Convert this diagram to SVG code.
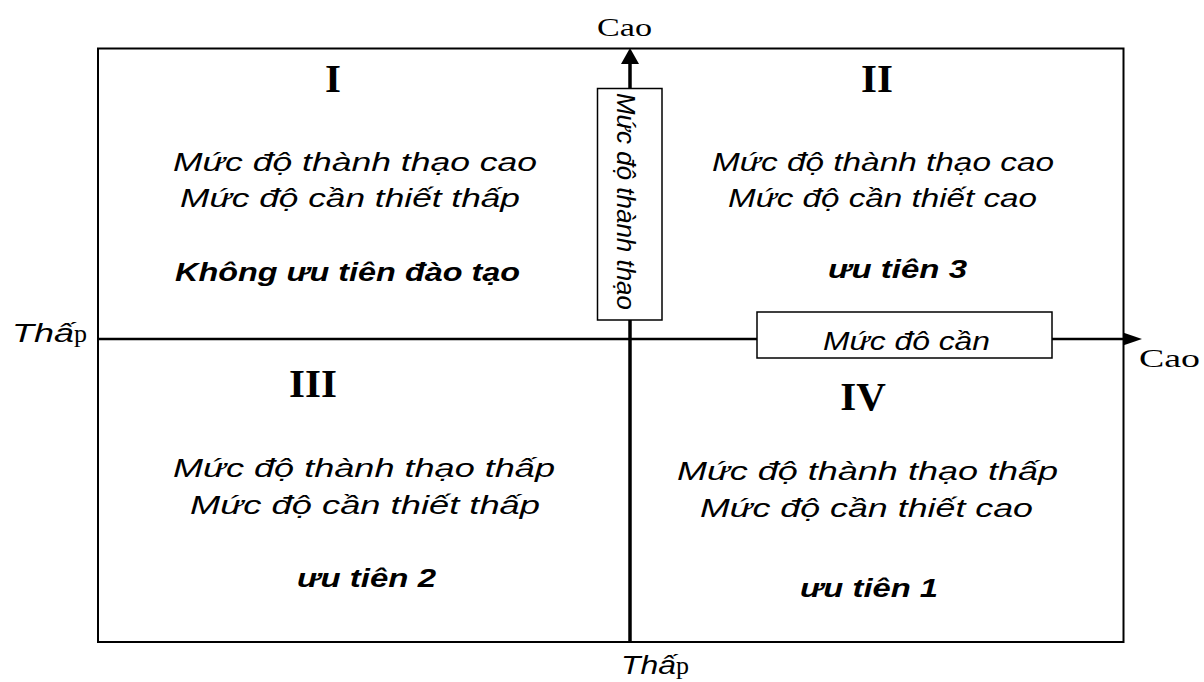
<svg xmlns="http://www.w3.org/2000/svg" width="1204" height="682" viewBox="0 0 1204 682">
  <style>
    .frame { fill: none; stroke: #000; stroke-width: 2; }
    .axis { stroke: #000; fill: none; }
    .tag { fill: #fff; stroke: #000; stroke-width: 1.5; }
    .num { font-family: "Liberation Serif", "Times New Roman", serif; font-weight: bold; font-size: 41px; fill: #000; text-anchor: middle; }
    .txt { font-family: "Liberation Sans", "DejaVu Sans", Arial, sans-serif; font-style: italic; font-size: 26px; fill: #000; }
    .bold { font-weight: bold; }
    .serif { font-family: "Liberation Serif", "Times New Roman", serif; font-size: 26px; fill: #000; }
  </style>

  <rect x="0" y="0" width="1204" height="682" fill="#fff"/>

  <!-- outer frame -->
  <rect class="frame" x="98" y="48.5" width="1025.5" height="593.5"/>

  <!-- axes -->
  <g id="connectors">
    <line class="axis" x1="630" y1="642" x2="630" y2="64" stroke-width="3.5"/>
    <polygon points="630,48 621,64 639,64" fill="#000"/>
    <line class="axis" x1="98" y1="339" x2="1124" y2="339" stroke-width="2.5"/>
    <polygon points="1142,339 1123,332.5 1123,345.5" fill="#000"/>
  </g>

  <!-- axis end labels -->
  <g id="label-top">
    <text class="serif" x="597" y="36" textLength="55" lengthAdjust="spacingAndGlyphs">Cao</text>
  </g>
  <g id="label-right">
    <text class="serif" x="1139" y="367" textLength="61" lengthAdjust="spacingAndGlyphs">Cao</text>
  </g>
  <g id="label-left">
    <text x="12" y="342"><tspan class="txt" textLength="62" lengthAdjust="spacingAndGlyphs">Thấ</tspan><tspan class="serif" font-size="29">p</tspan></text>
  </g>
  <g id="label-bottom">
    <text x="621" y="674"><tspan class="txt" textLength="55" lengthAdjust="spacingAndGlyphs">Thấ</tspan><tspan class="serif" font-size="29">p</tspan></text>
  </g>

  <!-- axis name boxes -->
  <g id="axis-vertical">
    <rect class="tag" x="597.5" y="88.5" width="64.5" height="231.5"/>
    <text class="txt" transform="translate(617,93) rotate(90)" x="0" y="0" font-size="26" textLength="217" lengthAdjust="spacingAndGlyphs">Mức độ thành thạo</text>
  </g>
  <g id="axis-horizontal">
    <rect class="tag" x="757" y="312" width="295" height="46"/>
    <text class="txt" x="823" y="350" font-size="24" textLength="167" lengthAdjust="spacingAndGlyphs">Mức đô cần</text>
  </g>

  <!-- quadrant I -->
  <g id="quadrant-1">
    <text class="num" x="333" y="92">I</text>
    <text class="txt" x="173" y="171" textLength="364" lengthAdjust="spacingAndGlyphs">Mức độ thành thạo cao</text>
    <text class="txt" x="180" y="207" textLength="340" lengthAdjust="spacingAndGlyphs">Mức độ cần thiết thấp</text>
    <text class="txt bold" x="175" y="281" textLength="345" lengthAdjust="spacingAndGlyphs">Không ưu tiên đào tạo</text>
  </g>

  <!-- quadrant II -->
  <g id="quadrant-2">
    <text class="num" x="877" y="92">II</text>
    <text class="txt" x="712" y="171" textLength="342" lengthAdjust="spacingAndGlyphs">Mức độ thành thạo cao</text>
    <text class="txt" x="728" y="207" textLength="309" lengthAdjust="spacingAndGlyphs">Mức độ cần thiết cao</text>
    <text class="txt bold" x="828" y="278" textLength="139" lengthAdjust="spacingAndGlyphs">ưu tiên 3</text>
  </g>

  <!-- quadrant III -->
  <g id="quadrant-3">
    <text class="num" x="313" y="397">III</text>
    <text class="txt" x="173" y="477" textLength="382" lengthAdjust="spacingAndGlyphs">Mức độ thành thạo thấp</text>
    <text class="txt" x="190" y="514" textLength="350" lengthAdjust="spacingAndGlyphs">Mức độ cần thiết thấp</text>
    <text class="txt bold" x="297" y="587" textLength="139" lengthAdjust="spacingAndGlyphs">ưu tiên 2</text>
  </g>

  <!-- quadrant IV -->
  <g id="quadrant-4">
    <text class="num" x="863" y="410">IV</text>
    <text class="txt" x="677" y="480" textLength="381" lengthAdjust="spacingAndGlyphs">Mức độ thành thạo thấp</text>
    <text class="txt" x="700" y="517" textLength="333" lengthAdjust="spacingAndGlyphs">Mức độ cần thiết cao</text>
    <text class="txt bold" x="800" y="597" textLength="138" lengthAdjust="spacingAndGlyphs">ưu tiên 1</text>
  </g>
</svg>
